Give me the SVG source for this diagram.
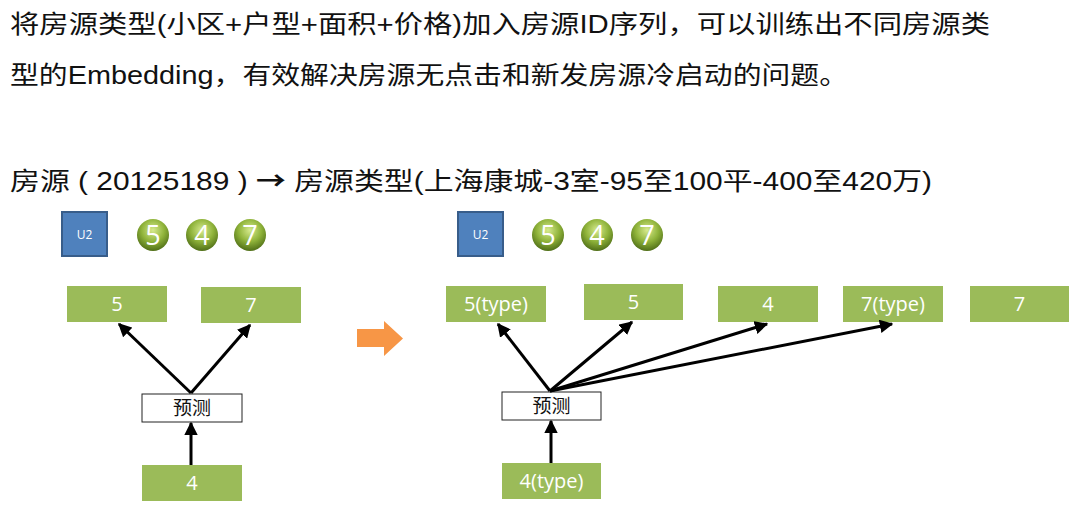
<svg xmlns="http://www.w3.org/2000/svg" width="1080" height="509" viewBox="0 0 1080 509">
<style>
.t{font-family:"Liberation Sans","Noto Sans CJK SC",sans-serif;fill:#111;}
.g rect{fill:#9bbb59;}
.g text{font-family:"Open Sans","Noto Sans CJK SC",sans-serif;font-size:20px;fill:#fff;text-anchor:middle;}
.p rect{fill:#fff;stroke:#222;stroke-width:1;}
.p text{font-family:"Noto Sans CJK SC",sans-serif;font-size:19px;fill:#111;text-anchor:middle;}
.u rect{fill:#4f81bd;stroke:#385d8a;stroke-width:2;}
.u text{font-family:"Open Sans",sans-serif;font-size:12px;fill:#fff;text-anchor:middle;}
.b circle{fill:url(#ball);}
.b text{font-family:"Open Sans",sans-serif;font-size:27px;fill:#fff;text-anchor:middle;}
.c line{stroke:#000;stroke-width:3;marker-end:url(#ah);}
</style>
<defs>
<radialGradient id="ball" cx="0.5" cy="0.35" r="0.65">
<stop offset="0" stop-color="#d6ea8e"/>
<stop offset="0.55" stop-color="#8fb33a"/>
<stop offset="1" stop-color="#4f6e17"/>
</radialGradient>
<marker id="ah" viewBox="0 0 10 10" refX="9" refY="5" markerWidth="4.5" markerHeight="4.5" orient="auto" markerUnits="strokeWidth">
<path d="M0,0L10,5L0,10z" fill="#000"/>
</marker>
</defs>
<rect width="1080" height="509" fill="#fff"/>
<text class="t" x="10" y="33" font-size="25" textLength="980" lengthAdjust="spacingAndGlyphs">将房源类型(小区+户型+面积+价格)加入房源ID序列，可以训练出不同房源类</text>
<text class="t" x="10" y="84" font-size="25" textLength="838" lengthAdjust="spacingAndGlyphs">型的Embedding，有效解决房源无点击和新发房源冷启动的问题。</text>
<text class="t" x="10" y="190" font-size="25" textLength="922" lengthAdjust="spacingAndGlyphs">房源 ( 20125189 ) <tspan font-family="Noto Sans CJK SC, sans-serif" font-weight="bold">→</tspan> 房源类型(上海康城-3室-95至100平-400至420万)</text>

<g id="left-u2" class="u"><rect x="62" y="212" width="45" height="44"/><text x="84.5" y="239">U2</text></g>
<g id="left-b5" class="b"><circle cx="153" cy="235" r="16"/><text x="153" y="245">5</text></g>
<g id="left-b4" class="b"><circle cx="202" cy="235" r="16"/><text x="202" y="245">4</text></g>
<g id="left-b7" class="b"><circle cx="250" cy="235" r="16"/><text x="250" y="245">7</text></g>
<g id="left-o5" class="g"><rect x="67" y="286" width="100" height="36"/><text x="117" y="311">5</text></g>
<g id="left-o7" class="g"><rect x="201" y="287" width="100" height="36"/><text x="251" y="312">7</text></g>
<g id="left-pred" class="p"><rect x="142" y="394" width="100" height="28"/><text x="192" y="415">预测</text></g>
<g id="left-in4" class="g"><rect x="142" y="465" width="100" height="36"/><text x="192" y="490">4</text></g>

<g id="orange-arrow"><path d="M357,329H384V321L403,338.5L384,356V347H357z" fill="#f79646"/></g>

<g id="right-u2" class="u"><rect x="458" y="212" width="45" height="44"/><text x="480.5" y="239">U2</text></g>
<g id="right-b5" class="b"><circle cx="548" cy="235" r="16"/><text x="548" y="245">5</text></g>
<g id="right-b4" class="b"><circle cx="597" cy="235" r="16"/><text x="597" y="245">4</text></g>
<g id="right-b7" class="b"><circle cx="647" cy="235" r="16"/><text x="647" y="245">7</text></g>
<g id="right-o5t" class="g"><rect x="446" y="286" width="100" height="36"/><text x="496" y="311">5(type)</text></g>
<g id="right-o5" class="g"><rect x="584" y="284" width="99" height="36"/><text x="633.5" y="309">5</text></g>
<g id="right-o4" class="g"><rect x="718" y="286" width="100" height="36"/><text x="768" y="311">4</text></g>
<g id="right-o7t" class="g"><rect x="843" y="286" width="100" height="36"/><text x="893" y="311">7(type)</text></g>
<g id="right-o7" class="g"><rect x="970" y="286" width="99" height="36"/><text x="1019.5" y="311">7</text></g>
<g id="right-pred" class="p"><rect x="502" y="392" width="99" height="28"/><text x="551.5" y="413">预测</text></g>
<g id="right-in4t" class="g"><rect x="502" y="463" width="99" height="36"/><text x="551.5" y="488">4(type)</text></g>

<g id="connectors" class="c">
<line x1="191" y1="393" x2="119" y2="324"/>
<line x1="191" y1="393" x2="250" y2="325"/>
<line x1="191" y1="465" x2="191" y2="423"/>
<line x1="550" y1="391" x2="498" y2="324"/>
<line x1="550" y1="391" x2="632" y2="322"/>
<line x1="550" y1="391" x2="767" y2="324"/>
<line x1="550" y1="391" x2="892" y2="324"/>
<line x1="551" y1="463" x2="551" y2="421"/>
</g>
</svg>
